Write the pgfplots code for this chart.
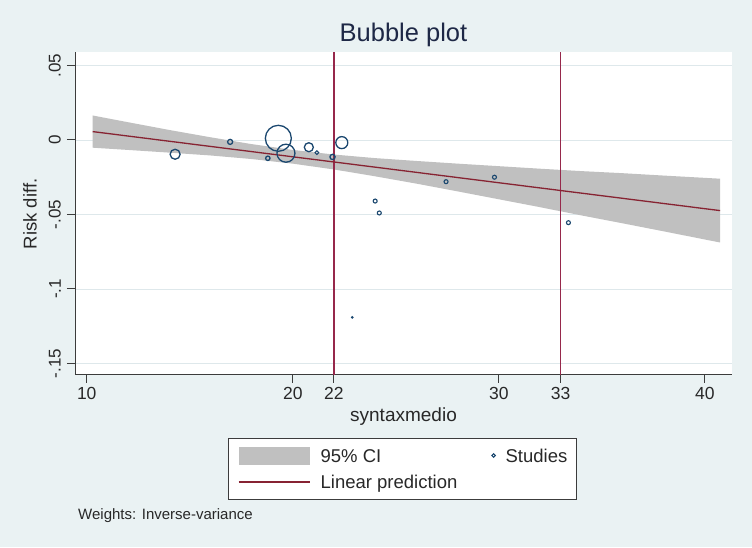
\documentclass[border=0pt]{standalone}
\usepackage{pgfplots}
\pgfplotsset{compat=1.18}
\usepackage{fontspec}
\setmainfont{Liberation Sans}
\definecolor{bgc}{RGB}{234,242,243}
\definecolor{gridc}{RGB}{222,232,235}
\definecolor{axisc}{RGB}{60,60,60}
\definecolor{bandc}{RGB}{192,192,192}
\definecolor{regc}{RGB}{135,35,50}
\definecolor{vlinec}{RGB}{150,40,75}
\definecolor{navyc}{RGB}{26,71,111}
\definecolor{titlec}{RGB}{30,40,70}
\definecolor{txtc}{RGB}{40,40,40}

\begin{document}
\begin{tikzpicture}[x=1pt,y=1pt]
\useasboundingbox (0,0) rectangle (752,547);
\fill[bgc] (0,0) rectangle (752,547);
\begin{axis}[
  at={(75pt,172.3pt)}, anchor=south west,
  scale only axis, width=657pt, height=322.7pt,
  xmin=9.43, xmax=41.32, ymin=-0.1575, ymax=0.059,
  axis x line*=bottom, axis y line*=left,
  axis line style={axisc, line width=1pt},
  axis background/.style={fill=white},
  tick align=outside, major tick length=8pt,
  tick style={axisc, line width=1pt},
  xtick={10,20,22,30,33,40}, xticklabels={10,20,22,30,33,40},
  ytick={0.05,0,-0.05,-0.1,-0.15}, yticklabels={.05,0,-.05,-.1,-.15},
  ymajorgrids, grid style={gridc, line width=0.8pt},
  xticklabel style={font=\fontsize{17.5}{18}\selectfont, text=txtc, inner sep=4pt},
  yticklabel style={font=\fontsize{17}{18}\selectfont, text=txtc, rotate=90, anchor=south, inner sep=6pt},
  legend columns=2,
  legend cell align=left,
  legend style={at={(axis description cs:0.23288,-0.19616)}, anchor=north west,
    draw=axisc, line width=1pt, fill=white, inner xsep=9.5pt, inner ysep=7pt,
    font=\fontsize{18.5}{20}\selectfont, text=txtc,
    nodes={inner sep=0pt, text height=16.5pt, text depth=3.5pt},
    column sep=0pt, row sep=6.5pt},
  studs/.style={only marks, mark=o, navyc, line width=1.3pt, forget plot},
]
\addplot[fill=bandc, draw=none,
  legend image code/.code={\fill[bandc, draw=none] (0pt,-9pt) rectangle (71pt,9pt); \path[draw=none, fill=none] (82pt,0pt);}]
  coordinates {(10.29,0.0164) (12,0.0119) (14,0.0067) (16,0.0018) (18,-0.0028) (20,-0.0067) (22,-0.0098) (24,-0.0122) (26,-0.0141) (28,-0.0159) (30,-0.0176) (32,-0.0193) (34,-0.0209) (36,-0.0223) (38,-0.0239) (40.74,-0.0260)
  (40.74,-0.0688) (38,-0.0613) (36,-0.0559) (34,-0.0506) (32,-0.0451) (30,-0.0398) (28,-0.0345) (26,-0.0293) (24,-0.0244) (22,-0.0198) (20,-0.0159) (18,-0.0128) (16,-0.0104) (14,-0.0085) (12,-0.0067) (10.29,-0.0052)};
\addlegendentry{\makebox[139pt][l]{95\% CI}}
\addplot[vlinec, line width=1.5pt, forget plot] coordinates {(22,-0.1575) (22,0.059)};
\addplot[vlinec, line width=1.5pt, forget plot] coordinates {(33,-0.1575) (33,0.059)};
% studies, one plot per bubble size (radius in pt)
\addplot[studs, mark size=5]   coordinates {(14.29,-0.0096)};
\addplot[studs, mark size=2.5] coordinates {(16.96,-0.0013)};
\addplot[studs, mark size=13]  coordinates {(19.30,0.0011)};
\addplot[studs, mark size=9]   coordinates {(19.67,-0.0089)};
\addplot[studs, mark size=2.2] coordinates {(18.79,-0.0123)};
\addplot[studs, mark size=4.5] coordinates {(20.78,-0.0049)};
\addplot[studs, mark size=1.8, line width=1.1pt] coordinates {(21.17,-0.0085)};
\addplot[studs, mark size=6]   coordinates {(22.38,-0.0018)};
\addplot[studs, mark size=2.6] coordinates {(21.93,-0.0114)};
\addplot[studs, mark size=0.8, line width=1pt] coordinates {(22.89,-0.1190)};
\addplot[only marks, mark=o, navyc, line width=1.1pt, mark size=2,
  legend image code/.code={\path[draw=none, fill=none] (-34pt,-9pt) rectangle (12pt,9pt); \draw[navyc, line width=1.1pt, fill=none] (0pt,0pt) circle (1.8pt);}]
  coordinates {(24.00,-0.0410) (24.20,-0.0490) (27.44,-0.0280) (29.79,-0.0250) (33.38,-0.0555)};
\addlegendentry{Studies}
\addplot[regc, line width=1.3pt,
  legend image code/.code={\draw[regc, line width=1.3pt] (0pt,0pt) -- (71pt,0pt); \path[draw=none, fill=none] (0pt,-9pt) rectangle (82pt,9pt);}]
  coordinates {(10.29,0.0056) (40.74,-0.0474)};
\addlegendentry{\makebox[139pt][l]{Linear prediction}}
\end{axis}
\node[anchor=base, font=\fontsize{25.5}{28}\selectfont, text=titlec] at (403.5,505) {Bubble plot};
\node[anchor=base, font=\fontsize{19}{21}\selectfont, text=txtc] at (403.5,126) {syntaxmedio};
\node[rotate=90, anchor=base, font=\fontsize{18.5}{20}\selectfont, text=txtc] at (36.7,333) {Risk diff.};
\node[anchor=base west, font=\fontsize{15}{17}\selectfont, text=txtc, inner sep=0pt] at (78,27.7) {Weights: Inverse-variance};
\end{tikzpicture}
\end{document}
